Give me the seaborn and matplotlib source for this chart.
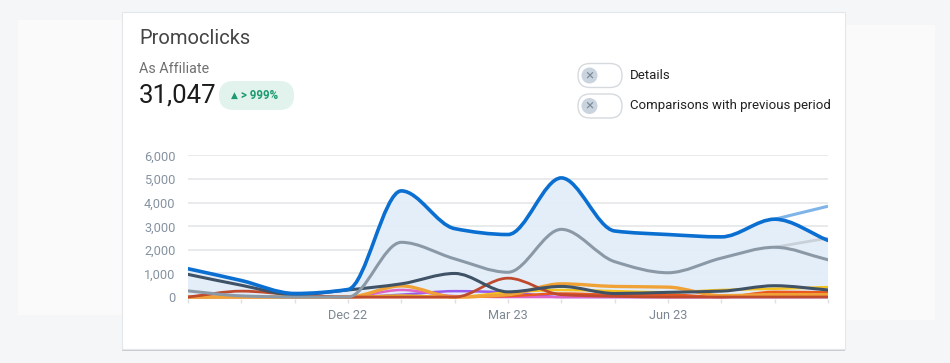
import numpy as np
import matplotlib
matplotlib.use("Agg")
import matplotlib.pyplot as plt
import seaborn as sns
from matplotlib.path import Path
from matplotlib.patches import PathPatch, FancyBboxPatch, Rectangle, Circle

# data (monthly, Sep 22 .. Sep 23)
months = ["Sep 22", "Oct 22", "Nov 22", "Dec 22", "Jan 23", "Feb 23", "Mar 23",
          "Apr 23", "May 23", "Jun 23", "Jul 23", "Aug 23", "Sep 23"]
shown_ticks = ["Dec 22", "Mar 23", "Jun 23"]
total = [1200, 700, 150, 320, 4500, 2900, 2650, 5050, 2800, 2650, 2550, 3300, 2400]
total_trend = [3300, 3850]          # Aug 23 -> Sep 23, lighter line
second = [260, 50, 0, 0, 2320, 1620, 1050, 2870, 1500, 1030, 1650, 2110, 1580]
second_trend = [2110, 2500]
slate = [960, 500, 100, 300, 560, 1000, 220, 450, 150, 200, 250, 480, 300]
brick = [0, 250, 100, 0, 0, 0, 800, 100, 30, 0, 0, 0, 0]
orange = [0, 0, 0, 0, 470, 0, 100, 560, 450, 420, 60, 100, 100]
amber = [0, 0, 0, 0, 60, 0, 200, 300, 250, 200, 300, 350, 420]
tomato = [0, 0, 0, 0, 0, 0, 40, 150, 100, 100, 0, 220, 200]
pink = [0, 0, 0, 0, 300, 40, 0, 0, 0, 0, 0, 100, 50]
violet = [0, 0, 0, 0, 100, 250, 200, 0, 0, 0, 0, 0, 0]
y_ticks = [0, 1000, 2000, 3000, 4000, 5000, 6000]


def mono_path(xs, ys, baseline=None):
    # monotone cubic (Fritsch-Carlson) drawn as bezier segments
    xs = np.asarray(xs, float)
    ys = np.asarray(ys, float)
    h = np.diff(xs)
    d = np.diff(ys) / h
    m = np.zeros(len(xs))
    m[0], m[-1] = d[0], d[-1]
    for i in range(1, len(xs) - 1):
        if d[i - 1] * d[i] > 0:
            w1 = 2 * h[i] + h[i - 1]
            w2 = h[i] + 2 * h[i - 1]
            m[i] = (w1 + w2) / (w1 / d[i - 1] + w2 / d[i])
    verts = [(xs[0], ys[0])]
    codes = [Path.MOVETO]
    for i in range(len(xs) - 1):
        verts += [(xs[i] + h[i] / 3, ys[i] + m[i] * h[i] / 3),
                  (xs[i + 1] - h[i] / 3, ys[i + 1] - m[i + 1] * h[i] / 3),
                  (xs[i + 1], ys[i + 1])]
        codes += [Path.CURVE4] * 3
    if baseline is not None:
        verts += [(xs[-1], baseline), (xs[0], baseline), (xs[0], baseline)]
        codes += [Path.LINETO, Path.LINETO, Path.CLOSEPOLY]
    return Path(verts, codes)


sns.set_theme(style="white")
plt.rcParams["font.family"] = ["Roboto", "DejaVu Sans"]

fig = plt.figure(figsize=(9.5, 3.63), dpi=100, facecolor="#f4f6f8")

# pixel overlay for card / header
ov = fig.add_axes([0, 0, 1, 1], zorder=0)
ov.set_xlim(0, 950)
ov.set_ylim(363, 0)
ov.axis("off")
ov.add_patch(Rectangle((18, 20), 104, 295, fc="#fafafb", ec="none"))
ov.add_patch(Rectangle((845, 25), 90, 295, fc="#fafafb", ec="none"))
ov.add_patch(Rectangle((122, 13), 723, 338, fc="#c9cdd2", ec="none"))
ov.add_patch(Rectangle((122, 12), 723, 337, fc="white", ec="#e4e7ea", lw=0.8))

ov.text(139, 39, "Promoclicks", fontsize=14.5, color="#454545", va="center")
ov.text(139, 69, "As Affiliate", fontsize=10.3, color="#707070", va="center")
ov.text(139, 96, "31,047", fontsize=18.5, color="#1c1c1c", va="center")
ov.add_patch(FancyBboxPatch((219, 81), 75, 29, boxstyle="round,pad=0,rounding_size=14.5",
                            fc="#e2f3ed", ec="none"))
ov.text(234, 95.5, "\u25b2", fontsize=6.5, color="#1d9a6e", va="center", ha="center")
ov.text(241, 95.5, "> 999%", fontsize=8.3, color="#1d9a6e", va="center",
        fontweight="bold")

for ty, label in [(75.5, "Details"), (106, "Comparisons with previous period")]:
    ov.add_patch(FancyBboxPatch((578, ty - 12), 44, 24, boxstyle="round,pad=0,rounding_size=12",
                                fc="white", ec="#d6dade", lw=1))
    ov.add_patch(Circle((589.5, ty), 8, fc="#c9d4de", ec="none"))
    ov.text(589.5, ty, "\u00d7", fontsize=11, color="#7f8c99", ha="center", va="center")
    ov.text(630, ty, label, fontsize=9.5, color="#222222", va="center")

# chart
ax = fig.add_axes([188 / 950, (363 - 299.4) / 363, 640 / 950, 143.9 / 363], zorder=1)
ax.patch.set_alpha(0)
x = np.arange(len(months))
ax.set_xlim(0, len(months) - 1)
ax.set_ylim(-100, 6000)

ax.add_patch(PathPatch(mono_path(x, total, baseline=0), fc="#e3eef9", ec="none",
                       alpha=0.95, zorder=1))

lines = [
    (violet, "#9659ee", 1.8),
    (pink, "#df62c6", 1.8),
    (tomato, "#ea5a1f", 1.8),
    (amber, "#f4c21c", 1.8),
    (orange, "#f0a236", 2.4),
    (brick, "#bf4a2e", 2.0),
    (slate, "#3f5266", 2.2),
]
for vals, col, lw in lines:
    ax.add_patch(PathPatch(mono_path(x, vals), fill=False, ec=col, lw=lw,
                           capstyle="round", joinstyle="round", zorder=2))

ax.add_patch(PathPatch(mono_path(x[-2:], second_trend), fill=False, ec="#c9d0d7",
                       lw=2.0, zorder=3))
ax.add_patch(PathPatch(mono_path(x, second), fill=False, ec="#8b99a7", lw=2.2,
                       capstyle="round", zorder=3))
ax.add_patch(PathPatch(mono_path(x[-2:], total_trend), fill=False, ec="#7fb4e8",
                       lw=2.2, zorder=4))
ax.add_patch(PathPatch(mono_path(x, total), fill=False, ec="#0a6fd0", lw=2.6,
                       capstyle="round", joinstyle="round", zorder=5))

ax.set_yticks(y_ticks)
ax.set_yticklabels([f"{v:,}" for v in y_ticks])
ax.set_xticks(x)
ax.set_xticklabels([m if m in shown_ticks else "" for m in months])
ax.grid(axis="y", color="#e4e6e9", lw=1.2)
ax.grid(axis="x", visible=False)
ax.set_axisbelow(True)
ax.tick_params(axis="y", length=0, pad=9, labelsize=9.2, labelcolor="#8592a0")
ax.tick_params(axis="x", length=3, width=1, color="#dde0e3", pad=4,
               labelsize=9.2, labelcolor="#7c8895", bottom=True, direction="out")
sns.despine(ax=ax, left=True, bottom=True, top=True, right=True)

fig.savefig("out.png", dpi=100, facecolor=fig.get_facecolor())
